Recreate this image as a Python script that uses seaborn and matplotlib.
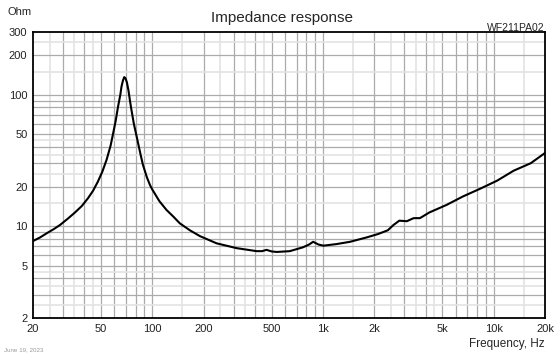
import numpy as np
import pandas as pd
import matplotlib
matplotlib.use("Agg")
import matplotlib.pyplot as plt
import seaborn as sns

# ------------------------
# Data
# ------------------------
freq_hz = [20, 22, 24, 26.5, 28.8, 32, 35, 38.6, 42, 45, 48, 51, 54, 57, 59, 61, 63,
           65, 66, 67.3, 68.5, 69.7, 71, 72.5, 74, 75.5, 78, 81, 85, 88, 93, 97, 100,
           110, 121, 133, 145, 166, 190, 238, 312, 409, 440, 467, 500, 536, 639, 764,
           830, 876, 940, 1005, 1200, 1442, 1800, 2100, 2400, 2590, 2800, 3100, 3400,
           3700, 4200, 5300, 6600, 8300, 10500, 13100, 16500, 20000]
impedance_ohm = [7.7, 8.2, 8.8, 9.5, 10.2, 11.4, 12.6, 14.2, 16.3, 18.6, 21.8, 26.0,
                 32.0, 41.0, 50.9, 63.0, 81.0, 100.0, 115.0, 128.0, 136.0, 133.0,
                 124.0, 108.0, 90.0, 76.6, 60.0, 48.0, 36.0, 29.5, 23.5, 20.5, 19.0,
                 15.5, 13.3, 11.8, 10.5, 9.3, 8.4, 7.4, 6.8, 6.45, 6.45, 6.6, 6.42,
                 6.36, 6.45, 6.9, 7.25, 7.6, 7.25, 7.1, 7.3, 7.6, 8.2, 8.7, 9.3, 10.2,
                 11.0, 10.9, 11.5, 11.5, 12.7, 14.5, 16.8, 19.2, 22.2, 26.4, 30.1, 36.0]

x_ticks = [20, 50, 100, 200, 500, 1000, 2000, 5000, 10000, 20000]
x_tick_labels = ["20", "50", "100", "200", "500", "1k", "2k", "5k", "10k", "20k"]
y_ticks = [2, 5, 10, 20, 50, 100, 200, 300]
y_tick_labels = ["2", "5", "10", "20", "50", "100", "200", "300"]

df = pd.DataFrame({"freq": freq_hz, "ohm": impedance_ohm})

# ------------------------
# Plot
# ------------------------
sns.set_style("white")
plt.rcParams["font.family"] = ["Liberation Sans", "DejaVu Sans"]

fig = plt.figure(figsize=(5.6, 3.54), dpi=100)
ax = fig.add_axes([0.0589, 0.1017, 0.9143, 0.808])

# grid: gray at integer multiples, light at a few half steps
dark, light = "#ababab", "#e3e3e3"
for d in [10, 100, 1000, 10000]:
    for m in range(1, 10):
        if 20 < m * d < 20000:
            ax.axvline(m * d, color=dark, lw=0.9, zorder=0)
        if m < 5 and 20 < (m + 0.5) * d < 20000:
            ax.axvline((m + 0.5) * d, color=light, lw=1.2, zorder=0)
for d in [1, 10, 100]:
    for m in range(1, 10):
        if 2 < m * d < 300:
            ax.axhline(m * d, color=dark, lw=0.9, zorder=0)
        if m < 5 and 2 < (m + 0.5) * d < 300:
            ax.axhline((m + 0.5) * d, color=light, lw=1.2, zorder=0)

sns.lineplot(data=df, x="freq", y="ohm", ax=ax, color="black", lw=1.5, zorder=3)

ax.set_xscale("log")
ax.set_yscale("log")
ax.set_xlim(20, 20000)
ax.set_ylim(2, 300)
ax.set_xticks(x_ticks)
ax.set_xticklabels(x_tick_labels)
ax.set_yticks(y_ticks)
ax.set_yticklabels(y_tick_labels)
ax.minorticks_off()
ax.tick_params(length=0, labelsize=8, pad=4, colors="#222222")
ax.set_xlabel("")
ax.set_ylabel("")
for s in ax.spines.values():
    s.set_color("black")
    s.set_linewidth(1.3)

fig.text(0.503, 0.948, "Impedance response", ha="center", va="center", fontsize=11)
fig.text(0.014, 0.965, "Ohm", ha="left", va="center", fontsize=8)
fig.text(0.973, 0.922, "WF211PA02", ha="right", va="center", fontsize=7.5)
fig.text(0.973, 0.028, "Frequency, Hz", ha="right", va="center", fontsize=8.5)
fig.text(0.008, 0.012, "June 19, 2023", ha="left", va="center", fontsize=4.5, color="#999999")

fig.savefig("out.png", dpi=100)
